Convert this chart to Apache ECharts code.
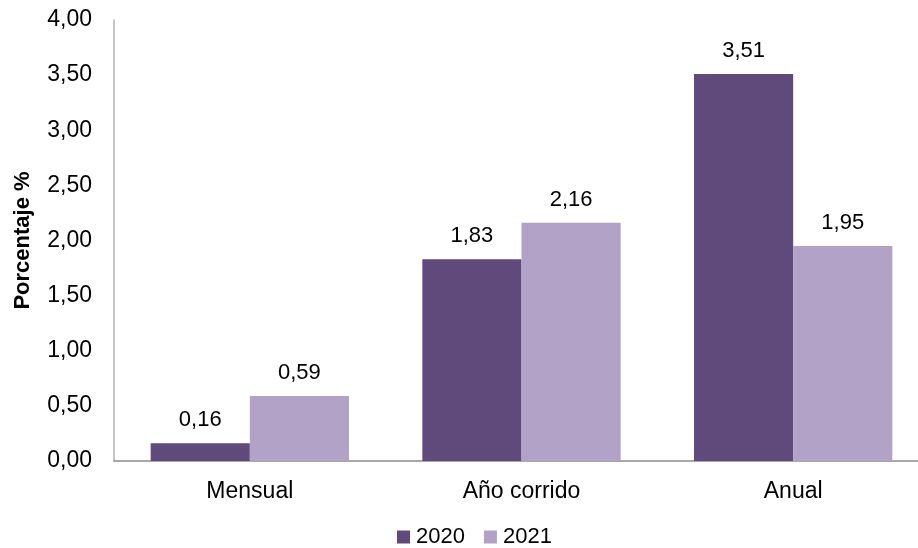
<!DOCTYPE html>
<html><head><meta charset="utf-8">
<script src="https://cdn.jsdelivr.net/npm/echarts@6/dist/echarts.min.js"></script>
<style>html,body{margin:0;padding:0;background:#fff}#c{width:918px;height:548px}</style>
</head><body><div id="c"></div>
<script>
const categories = ['Mensual', 'Año corrido', 'Anual'];
const series2020 = [0.16, 1.83, 3.51];
const series2021 = [0.59, 2.16, 1.95];
const seriesNames = ['2020', '2021'];
const fmt = v => v.toFixed(2).replace('.', ',');
const chart = echarts.init(document.getElementById('c'));
const font = 'Liberation Sans, Arial, sans-serif';
const lbl = {show: true, position: 'top', distance: 12, color: '#000', fontSize: 22, fontFamily: font, formatter: p => fmt(p.value)};
chart.setOption({
  animation: false,
  grid: {left: 114, top: 20, right: -11, bottom: 87, containLabel: false, outerBoundsMode: 'none'},
  legend: {top: 521, left: 392, itemWidth: 13, itemHeight: 13, itemGap: 19, icon: 'rect',
    textStyle: {fontSize: 22, fontFamily: font, color: '#000', padding: [0, 0, 0, 1]}, data: seriesNames},
  xAxis: {type: 'category', data: categories,
    axisLine: {lineStyle: {color: '#8c8c8c', width: 1.5}}, axisTick: {show: false},
    axisLabel: {fontSize: 23, fontFamily: font, color: '#000', margin: 19}},
  yAxis: {type: 'value', min: 0, max: 4, interval: 0.5,
    name: 'Porcentaje %', nameLocation: 'middle', nameGap: 80, nameRotate: 90,
    nameTextStyle: {fontSize: 22, fontWeight: 'bold', fontFamily: font, color: '#000'},
    axisLine: {show: true, lineStyle: {color: '#b0b0b0', width: 1.5}}, axisTick: {show: false}, splitLine: {show: false},
    axisLabel: {fontSize: 23, fontFamily: font, color: '#000', margin: 22, formatter: v => fmt(v)}},
  series: [
    {name: seriesNames[0], type: 'bar', data: series2020, barGap: '0%', barCategoryGap: '27%', itemStyle: {color: '#604a7b'}, label: lbl},
    {name: seriesNames[1], type: 'bar', data: series2021, itemStyle: {color: '#b3a2c7'}, label: lbl}
  ]
});
</script></body></html>
